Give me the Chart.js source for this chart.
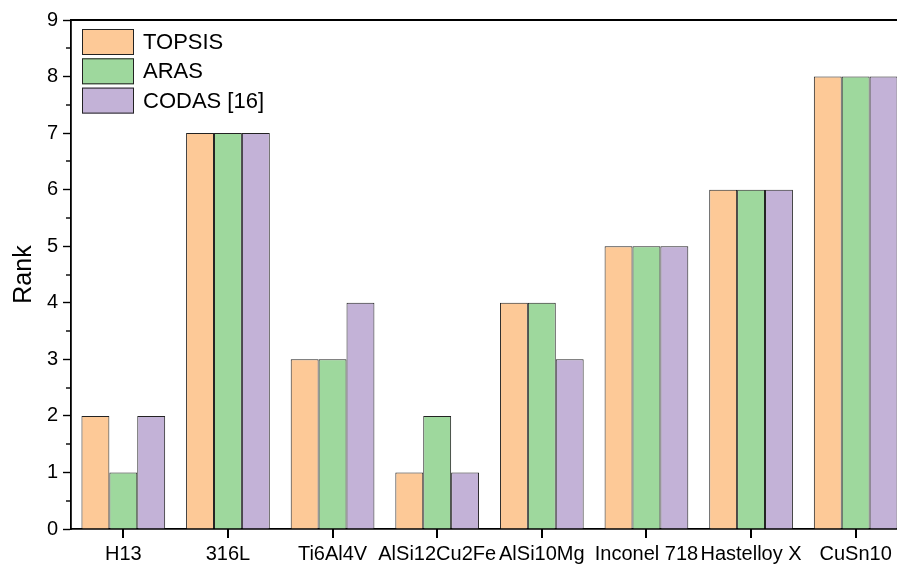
<!DOCTYPE html>
<html>
<head>
<meta charset="utf-8">
<script src="https://cdn.jsdelivr.net/npm/chart.js@4"></script>
<style>
	html, body { margin: 0; padding: 0; background: #fff; overflow: hidden; width: 897px; height: 565px; }
	#wrap { width: 912px; height: 565px; }
</style>
</head>
<body>
<div id="wrap"><canvas id="c" width="912" height="565"></canvas></div>
<script>
const materials = ['H13', '316L', 'Ti6Al4V', 'AlSi12Cu2Fe', 'AlSi10Mg', 'Inconel 718', 'Hastelloy X', 'CuSn10'];
const topsis = [2, 7, 3, 1, 4, 5, 6, 8];
const aras   = [1, 7, 3, 2, 4, 5, 6, 8];
const codas  = [2, 7, 4, 1, 3, 5, 6, 8];
const yTicks = [0, 1, 2, 3, 4, 5, 6, 7, 8, 9];

const FONT = "'Liberation Sans', Arial, sans-serif";

// легенда столбиком внутри области графика + верхняя рамка + засечки
const extras = {
	id: 'extras',
	afterDraw(chart) {
		const ctx = chart.ctx;
		const a = chart.chartArea;
		const x = chart.scales.x;
		const y = chart.scales.y;
		ctx.save();
		ctx.fillStyle = '#000';
		// верхняя линия рамки
		ctx.fillRect(a.left - 1, a.top - 1, a.right - a.left + 1, 2);
		// минорные засечки по Y
		for (let v = 0.5; v < 9; v += 1) {
			const py = Math.round(y.getPixelForValue(v));
			ctx.fillRect(a.left - 5, py - 0.7, 5, 1.4);
		}
		// засечки по X в центрах категорий
		for (let i = 0; i < materials.length; i++) {
			const px = Math.round(x.getPixelForValue(i));
			ctx.fillRect(px - 1, a.bottom, 2, 9);
		}
		// легенда
		ctx.font = '22px ' + FONT;
		ctx.textBaseline = 'middle';
		ctx.textAlign = 'left';
		chart.data.datasets.forEach((ds, i) => {
			const bx = 82, by = 29 + i * 29.3, bw = 52, bh = 26;
			ctx.fillStyle = ds.backgroundColor;
			ctx.fillRect(bx, by, bw, bh);
			ctx.strokeStyle = '#222';
			ctx.lineWidth = 1;
			ctx.strokeRect(bx + 0.5, by + 0.5, bw - 1, bh - 1);
			ctx.fillStyle = '#000';
			ctx.fillText(ds.label, 143, by + bh / 2 + 1);
		});
		ctx.restore();
	}
};

new Chart(document.getElementById('c'), {
	type: 'bar',
	data: {
		labels: materials,
		datasets: [
			{ label: 'TOPSIS', data: topsis, backgroundColor: '#FDC997' },
			{ label: 'ARAS', data: aras, backgroundColor: '#9ED89D' },
			{ label: 'CODAS [16]', data: codas, backgroundColor: '#C3B2D7' }
		].map(d => Object.assign(d, { borderColor: '#222', borderWidth: 1, categoryPercentage: 0.8, barPercentage: 1.0 }))
	},
	options: {
		responsive: false,
		animation: false,
		layout: { padding: { top: 20, right: 4, left: 0, bottom: 0 } },
		plugins: { legend: { display: false }, tooltip: { enabled: false } },
		scales: {
			x: {
				grid: { display: true, drawOnChartArea: false, drawTicks: true, tickLength: 8, tickColor: 'rgba(0,0,0,0)' },
				border: { display: true, color: '#000', width: 1.8 },
				ticks: { color: '#000', font: { family: FONT, size: 20 }, padding: 5, autoSkip: false, maxRotation: 0, minRotation: 0 },
				afterFit(s) { s.height = 36; }
			},
			y: {
				min: 0, max: 9,
				afterBuildTicks(s) { s.ticks = yTicks.map(v => ({ value: v })); },
				grid: { display: true, drawOnChartArea: false, drawTicks: true, tickLength: 8, tickColor: '#000', tickWidth: 1.4 },
				border: { display: true, color: '#000', width: 1.8 },
				ticks: { color: '#000', font: { family: FONT, size: 20 }, padding: 5 },
				title: { display: true, text: 'Rank', color: '#000', font: { family: FONT, size: 25 }, padding: { top: 9, bottom: 0 } },
				afterFit(s) { s.width = 71; }
			}
		}
	},
	plugins: [extras]
});
</script>
</body>
</html>
